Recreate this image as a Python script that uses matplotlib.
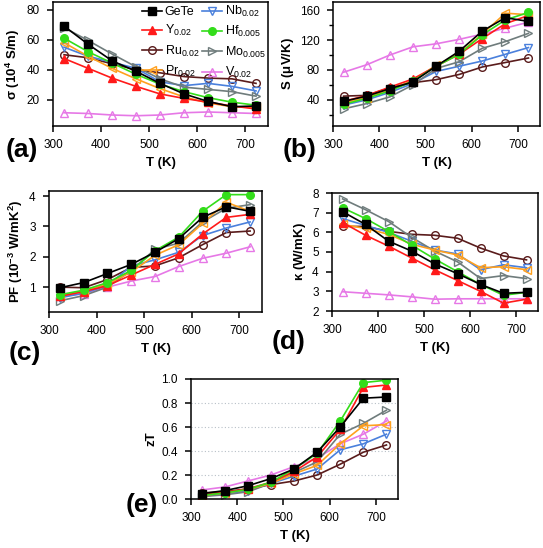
import matplotlib
matplotlib.use("Agg")
import matplotlib.pyplot as plt
from matplotlib.ticker import MultipleLocator

plt.rcParams['font.family'] = ['Liberation Sans', 'DejaVu Sans']
plt.rcParams['mathtext.fontset'] = 'custom'
plt.rcParams['mathtext.rm'] = 'Liberation Sans'
plt.rcParams['mathtext.bf'] = 'Liberation Sans:bold'

T = [323, 373, 423, 473, 523, 573, 623, 673, 723]

names = ['GeTe', 'Nb$_{0.02}$', 'Y$_{0.02}$', 'Hf$_{0.005}$', 'Ru$_{0.02}$',
         'Mo$_{0.005}$', 'Pr$_{0.02}$', 'V$_{0.02}$']
keys = ['GeTe', 'Nb', 'Y', 'Hf', 'Ru', 'Mo', 'Pr', 'V']

sigma = {
    'GeTe': [69, 57, 46, 39, 31, 24, 19, 15.5, 16],
    'Nb':   [55, 49, 45, 41, 32, 29.5, 31, 29, 26],
    'Y':    [47.5, 41, 34.5, 29, 24, 21, 18.5, 16, 14],
    'Hf':   [61, 52, 44.5, 37, 30.5, 25.5, 21.5, 18.5, 16.5],
    'Ru':   [50, 48, 44, 40, 38, 35.5, 34.5, 34, 31],
    'Mo':   [68, 59.5, 50.5, 42, 34, 28.5, 27, 25.5, 22.5],
    'Pr':   [58, 49, 41, 34, 27.5, 22, 18, 15.5, 15],
    'V':    [11.5, 11, 10, 9.5, 10, 11.5, 12, 11.5, 11],
}
seebeck = {
    'GeTe': [38, 45, 55, 64, 85, 105, 132, 150, 145],
    'Nb':   [33, 40, 50, 62, 78, 85, 92, 101, 110],
    'Y':    [38, 46, 57, 68, 85, 101, 122, 142, 153],
    'Hf':   [34, 42, 52, 65, 85, 101, 127, 147, 157],
    'Ru':   [45, 46, 56, 63, 67, 74, 84, 90, 96],
    'Mo':   [28, 35, 44, 60, 82, 91, 109, 118, 129],
    'Pr':   [36, 43, 54, 66, 86, 102, 128, 156, 154],
    'V':    [77, 87, 100, 111, 115, 121, 128, 136, 144],
}
pf = {
    'GeTe': [0.98, 1.15, 1.45, 1.75, 2.15, 2.6, 3.3, 3.65, 3.5],
    'Nb':   [0.65, 0.8, 1.05, 1.7, 1.9, 2.15, 2.7, 2.95, 3.15],
    'Y':    [0.7, 0.85, 1.05, 1.4, 1.75, 2.1, 2.75, 3.3, 3.4],
    'Hf':   [0.75, 0.9, 1.15, 1.55, 2.2, 2.65, 3.5, 4.05, 4.05],
    'Ru':   [1.0, 0.98, 1.25, 1.65, 1.7, 1.97, 2.4, 2.8, 2.85],
    'Mo':   [0.55, 0.72, 1.0, 1.55, 2.25, 2.45, 3.15, 3.6, 3.72],
    'Pr':   [0.7, 0.88, 1.1, 1.5, 2.05, 2.4, 3.1, 3.8, 3.5],
    'V':    [0.7, 0.78, 1.0, 1.2, 1.35, 1.68, 1.95, 2.12, 2.33],
}
kappa = {
    'GeTe': [7.05, 6.4, 5.55, 5.05, 4.4, 3.9, 3.35, 2.9, 2.95],
    'Nb':   [6.7, 6.35, 6.0, 5.55, 5.1, 4.9, 4.1, 4.35, 4.2],
    'Y':    [6.5, 5.85, 5.3, 4.7, 4.1, 3.55, 3.0, 2.4, 2.6],
    'Hf':   [7.25, 6.7, 6.05, 5.35, 4.65, 4.0, 3.35, 2.8, 2.95],
    'Ru':   [6.3, 6.3, 6.05, 5.9, 5.85, 5.7, 5.2, 4.8, 4.6],
    'Mo':   [7.7, 7.15, 6.55, 5.75, 5.05, 4.5, 3.65, 3.8, 3.65],
    'Pr':   [6.4, 6.2, 5.9, 5.4, 5.1, 4.85, 4.2, 4.25, 4.1],
    'V':    [2.98, 2.9, 2.82, 2.72, 2.6, 2.62, 2.62, 2.62, 2.62],
}
zt = {
    'GeTe': [0.045, 0.07, 0.11, 0.17, 0.25, 0.39, 0.6, 0.84, 0.85],
    'Nb':   [0.025, 0.04, 0.07, 0.13, 0.19, 0.25, 0.41, 0.46, 0.54],
    'Y':    [0.035, 0.055, 0.085, 0.14, 0.23, 0.35, 0.58, 0.93, 0.95],
    'Hf':   [0.03, 0.05, 0.08, 0.14, 0.25, 0.38, 0.65, 0.97, 0.99],
    'Ru':   [0.05, 0.06, 0.085, 0.12, 0.15, 0.2, 0.29, 0.39, 0.45],
    'Mo':   [0.02, 0.035, 0.06, 0.13, 0.22, 0.31, 0.54, 0.63, 0.74],
    'Pr':   [0.03, 0.05, 0.08, 0.13, 0.21, 0.28, 0.46, 0.61, 0.62],
    'V':    [0.075, 0.1, 0.15, 0.2, 0.27, 0.34, 0.46, 0.54, 0.65],
}

styles = {
    'GeTe': dict(color='#000000', marker='s', mfc='#000000'),
    'Nb':   dict(color='#4a80dc', marker='v', mfc='none'),
    'Y':    dict(color='#ff1a1a', marker='^', mfc='#ff1a1a'),
    'Hf':   dict(color='#33dd1a', marker='o', mfc='#33dd1a'),
    'Ru':   dict(color='#5a1c1c', marker='o', mfc='none'),
    'Mo':   dict(color='#6f7c7c', marker='>', mfc='none'),
    'Pr':   dict(color='#ffa01e', marker='<', mfc='none'),
    'V':    dict(color='#e678e6', marker='^', mfc='none'),
}
draw_order = ['V', 'Ru', 'Nb', 'Mo', 'Pr', 'Y', 'Hf', 'GeTe']

W, H = 543, 548
fig = plt.figure(figsize=(W / 100, H / 100), dpi=100)


def add_ax(l, r, t, b):
    return fig.add_axes([l / W, (H - b) / H, (r - l) / W, (b - t) / H])


def style_ax(ax, ylim, ystep, ylabel, yminor=None):
    ax.set_xlim(300, 748)
    ax.set_ylim(*ylim)
    ax.xaxis.set_major_locator(MultipleLocator(100))
    ax.yaxis.set_major_locator(MultipleLocator(ystep))
    if yminor:
        ax.yaxis.set_minor_locator(MultipleLocator(yminor))
    ax.tick_params(which='major', direction='out', length=4.5, width=1.1,
                   labelsize=8.5, pad=5)
    ax.tick_params(which='minor', direction='out', length=3, width=1.0)
    for s in ax.spines.values():
        s.set_linewidth(1.1)
    ax.set_xlabel('T (K)', fontsize=9.5, fontweight='bold', labelpad=4)
    ax.set_ylabel(ylabel, fontsize=9.5, fontweight='bold', labelpad=3)


def plot_data(ax, data):
    lines = {}
    for k in draw_order:
        st = styles[k]
        ln, = ax.plot(T, data[k], color=st['color'], marker=st['marker'],
                      mfc=st['mfc'], mec=st['color'], ms=5.5, lw=1.2, mew=1.0)
        lines[k] = ln
    return lines


axa = add_ax(53, 268, 2, 126)
la = plot_data(axa, sigma)
style_ax(axa, (2.7, 85), 20, r'$\mathbf{\sigma}$ (10$^{\mathbf{4}}$ S/m)')
axa.legend([la[k] for k in ['GeTe', 'Y', 'Ru', 'Pr', 'Nb', 'Hf', 'Mo', 'V']],
           ['GeTe', 'Y$_{0.02}$', 'Ru$_{0.02}$', 'Pr$_{0.02}$',
            'Nb$_{0.02}$', 'Hf$_{0.005}$', 'Mo$_{0.005}$', 'V$_{0.02}$'],
           ncol=2, loc='upper right', frameon=False, fontsize=9,
           handlelength=1.6, handletextpad=0.25, columnspacing=0.2,
           labelspacing=0.42, borderaxespad=0.05, borderpad=0.1)

axb = add_ax(333, 540, 2, 126)
plot_data(axb, seebeck)
style_ax(axb, (5, 171), 40, r'S ($\mathbf{\mu}$V/K)', yminor=20)

axc = add_ax(49, 262, 191, 312)
plot_data(axc, pf)
style_ax(axc, (0.18, 4.17), 1, r'PF (10$^{\mathbf{-3}}$ W/mK$^{\mathbf{2}}$)')

axd = add_ax(332, 538, 193, 311)
plot_data(axd, kappa)
style_ax(axd, (2, 8), 1, r'$\mathbf{\kappa}$ (W/mK)')

axe = add_ax(191, 398, 379, 499)
for yv in [0.2, 0.4, 0.6, 0.8]:
    axe.axhline(yv, color='#b8c0c8', lw=0.8, ls=(0, (1, 2)), zorder=0)
plot_data(axe, zt)
style_ax(axe, (0, 1.0), 0.2, 'zT')
axe.yaxis.set_major_formatter(matplotlib.ticker.FormatStrFormatter('%.1f'))

for txt, x, y in [('(a)', 22, 150), ('(b)', 300, 150), ('(c)', 25, 353),
                  ('(d)', 289, 342), ('(e)', 142, 505)]:
    fig.text(x / W, 1 - y / H, txt, fontsize=19, fontweight='bold',
             ha='center', va='center')

fig.savefig('out.png', dpi=100)
